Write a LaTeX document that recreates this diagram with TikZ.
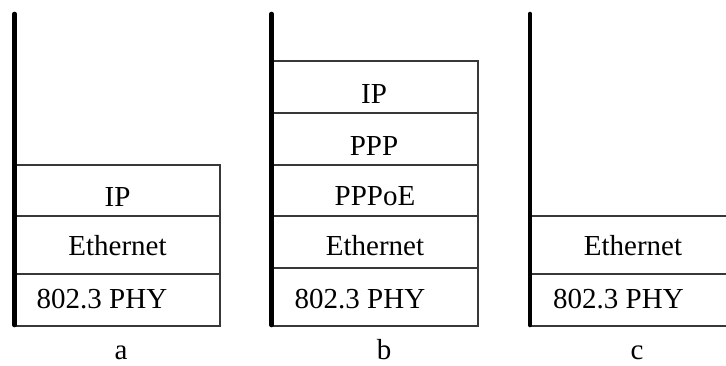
\documentclass[tikz,border=0pt]{standalone}
\usepackage{fontspec}
\newfontfamily\layerfont{Liberation Serif}
\begin{document}
\begin{tikzpicture}[x=1pt,y=-1pt,
  layer/.style={draw=black!78,line width=1.2pt,rectangle,inner sep=0pt,minimum width=#1},
  txt/.style={anchor=base,inner sep=0pt,font=\layerfont\fontsize{29}{30}\selectfont},
  phy/.style={anchor=base west,inner sep=0pt,font=\layerfont\fontsize{29}{30}\selectfont},
  stacklabel/.style={txt,text depth=0pt},
  bus/.style={line width=4.6pt,line cap=round,black}]
\useasboundingbox (0,0) rectangle (726,365);
\clip (0,0) rectangle (726,365);

% --- stack a ---
\node[layer=205.5pt,minimum height=51pt] (aip)  at (117.25,190.5) {};
\node[layer=205.5pt,minimum height=58pt] (aeth) at (117.25,245) {};
\node[layer=205.5pt,minimum height=52pt] (aphy) at (117.25,300) {};
\node[txt] (taip)  at (117.5,206) {IP};
\node[txt] (taeth) at (117.5,255) {Ethernet};
\node[phy] (taphy) at (36.5,308) {802.3 PHY};
\coordinate (atop) at (14.5,14);
\coordinate (abot) at (14.5,325);
\draw[bus] (atop) -- (abot);
\node[stacklabel] (la) at (121,359) {a};

% --- stack b ---
\node[layer=206.5pt,minimum height=52pt] (bip)    at (374.75,87) {};
\node[layer=206.5pt,minimum height=52pt] (bppp)   at (374.75,139) {};
\node[layer=206.5pt,minimum height=51pt] (bpppoe) at (374.75,190.5) {};
\node[layer=206.5pt,minimum height=52pt] (beth)   at (374.75,242) {};
\node[layer=206.5pt,minimum height=58pt] (bphy)   at (374.75,297) {};
\node[txt] (tbip)    at (374,103) {IP};
\node[txt] (tbppp)   at (374,155) {PPP};
\node[txt] (tbpppoe) at (375,205) {PPPoE};
\node[txt] (tbeth)   at (375,255) {Ethernet};
\node[phy] (tbphy)   at (294.5,308) {802.3 PHY};
\coordinate (btop) at (271.5,14);
\coordinate (bbot) at (271.5,325);
\draw[bus] (btop) -- (bbot);
\node[stacklabel] (lb) at (384,359) {b};

% --- stack c ---
\node[layer=210pt,minimum height=58pt] (ceth) at (635,245) {};
\node[layer=210pt,minimum height=52pt] (cphy) at (635,300) {};
\node[txt] (tceth) at (633,255) {Ethernet};
\node[phy] (tcphy) at (553,308) {802.3 PHY};
\coordinate (ctop) at (530,14);
\coordinate (cbot) at (530,325);
\draw[bus] (ctop) -- (cbot);
\node[stacklabel] (lc) at (637,359) {c};
\end{tikzpicture}
\end{document}
